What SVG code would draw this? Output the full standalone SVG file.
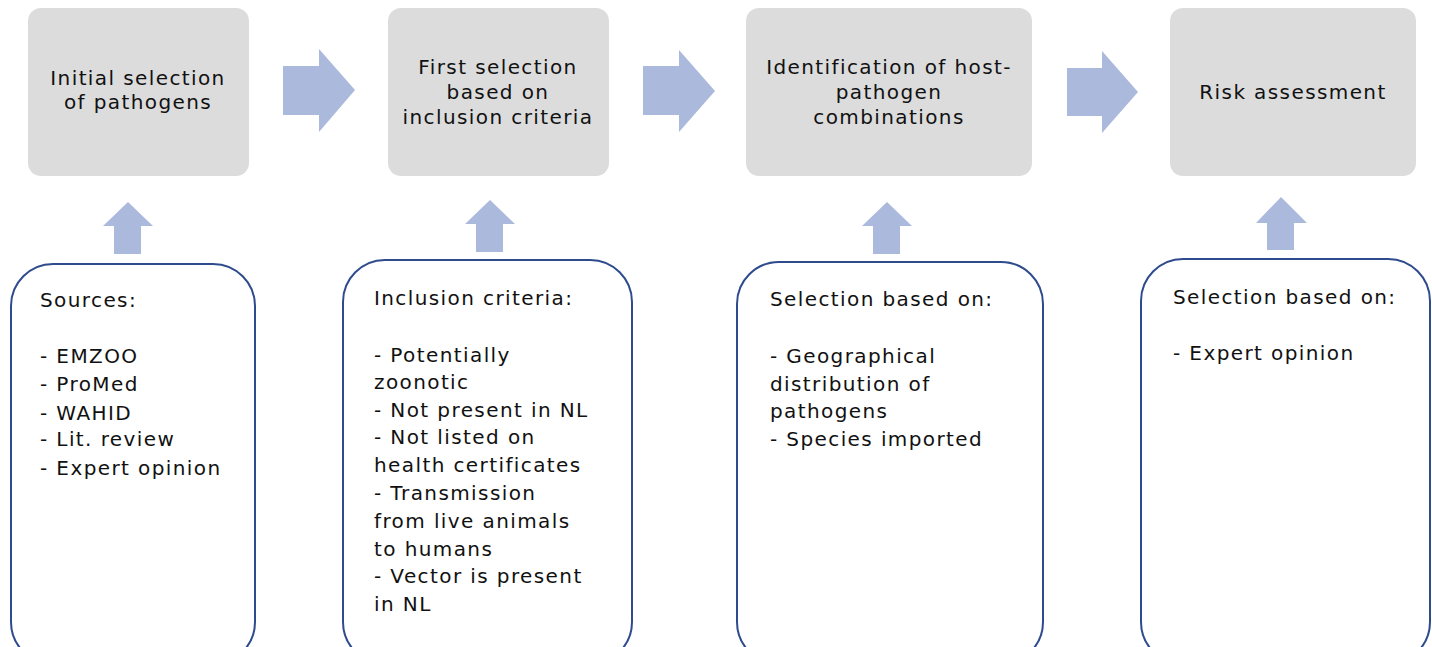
<svg xmlns="http://www.w3.org/2000/svg" width="1432" height="647" viewBox="0 0 1432 647">
<style>
.step{fill:#dcdcdc;}
.src{fill:#ffffff;stroke:#2e4b8e;stroke-width:2;}
.arr{fill:#abb9dd;}
text{font-family:"DejaVu Sans","Liberation Sans",sans-serif;font-size:20px;letter-spacing:1.4px;fill:#111;}
.c{text-anchor:middle;}
</style>
<rect width="1432" height="647" fill="#ffffff"/>
<g id="step1"><rect class="step" x="28" y="8" width="221" height="168" rx="13"/>
<text class="c" x="138" y="85">Initial selection</text><text class="c" x="138" y="109">of pathogens</text></g>
<g id="step2"><rect class="step" x="388" y="8" width="221" height="168" rx="13"/>
<text class="c" x="498" y="74">First selection</text><text class="c" x="498" y="99">based on</text><text class="c" x="498" y="124">inclusion criteria</text></g>
<g id="step3"><rect class="step" x="746" y="8" width="286" height="168" rx="13"/>
<text class="c" x="889" y="74">Identification of host-</text><text class="c" x="889" y="99">pathogen</text><text class="c" x="889" y="124">combinations</text></g>
<g id="step4"><rect class="step" x="1170" y="8" width="246" height="168" rx="13"/>
<text class="c" x="1293" y="99">Risk assessment</text></g>

<g id="box1"><rect class="src" x="11" y="264" width="244" height="400" rx="42"/>
<text x="40" y="307">Sources:</text>
<text x="40" y="363">- EMZOO</text><text x="40" y="391">- ProMed</text><text x="40" y="420">- WAHID</text><text x="40" y="446">- Lit. review</text><text x="40" y="475">- Expert opinion</text></g>
<g id="box2"><rect class="src" x="343" y="260" width="289" height="404" rx="42"/>
<text x="374" y="305">Inclusion criteria:</text>
<text x="374" y="362">- Potentially</text><text x="374" y="389">zoonotic</text><text x="374" y="417">- Not present in NL</text><text x="374" y="444">- Not listed on</text><text x="374" y="472">health certificates</text><text x="374" y="500">- Transmission</text><text x="374" y="528">from live animals</text><text x="374" y="556">to humans</text><text x="374" y="583">- Vector is present</text><text x="374" y="611">in NL</text></g>
<g id="box3"><rect class="src" x="737" y="262" width="306" height="402" rx="42"/>
<text x="770" y="306">Selection based on:</text>
<text x="770" y="363">- Geographical</text><text x="770" y="391">distribution of</text><text x="770" y="418">pathogens</text><text x="770" y="446">- Species imported</text></g>
<g id="box4"><rect class="src" x="1141" y="259" width="289" height="405" rx="42"/>
<text x="1173" y="304">Selection based on:</text>
<text x="1173" y="360">- Expert opinion</text></g>

<g id="connectors">
<polygon class="arr" points="283,66 319,66 319,49 355,90 319,132 319,115 283,115"/>
<polygon class="arr" points="643,66 679,66 679,50 715,91 679,132 679,115 643,115"/>
<polygon class="arr" points="1067,68 1102,68 1102,51 1138,92 1102,133 1102,116 1067,116"/>
<polygon class="arr" points="128,202 153,226 141,226 141,254 114,254 114,226 103,226"/>
<polygon class="arr" points="490,200 515,224 503,224 503,252 476,252 476,224 465,224"/>
<polygon class="arr" points="887,202 912,226 900,226 900,254 873,254 873,226 862,226"/>
<polygon class="arr" points="1281,197 1307,223 1294,223 1294,250 1267,250 1267,223 1256,223"/>
</g>
</svg>
